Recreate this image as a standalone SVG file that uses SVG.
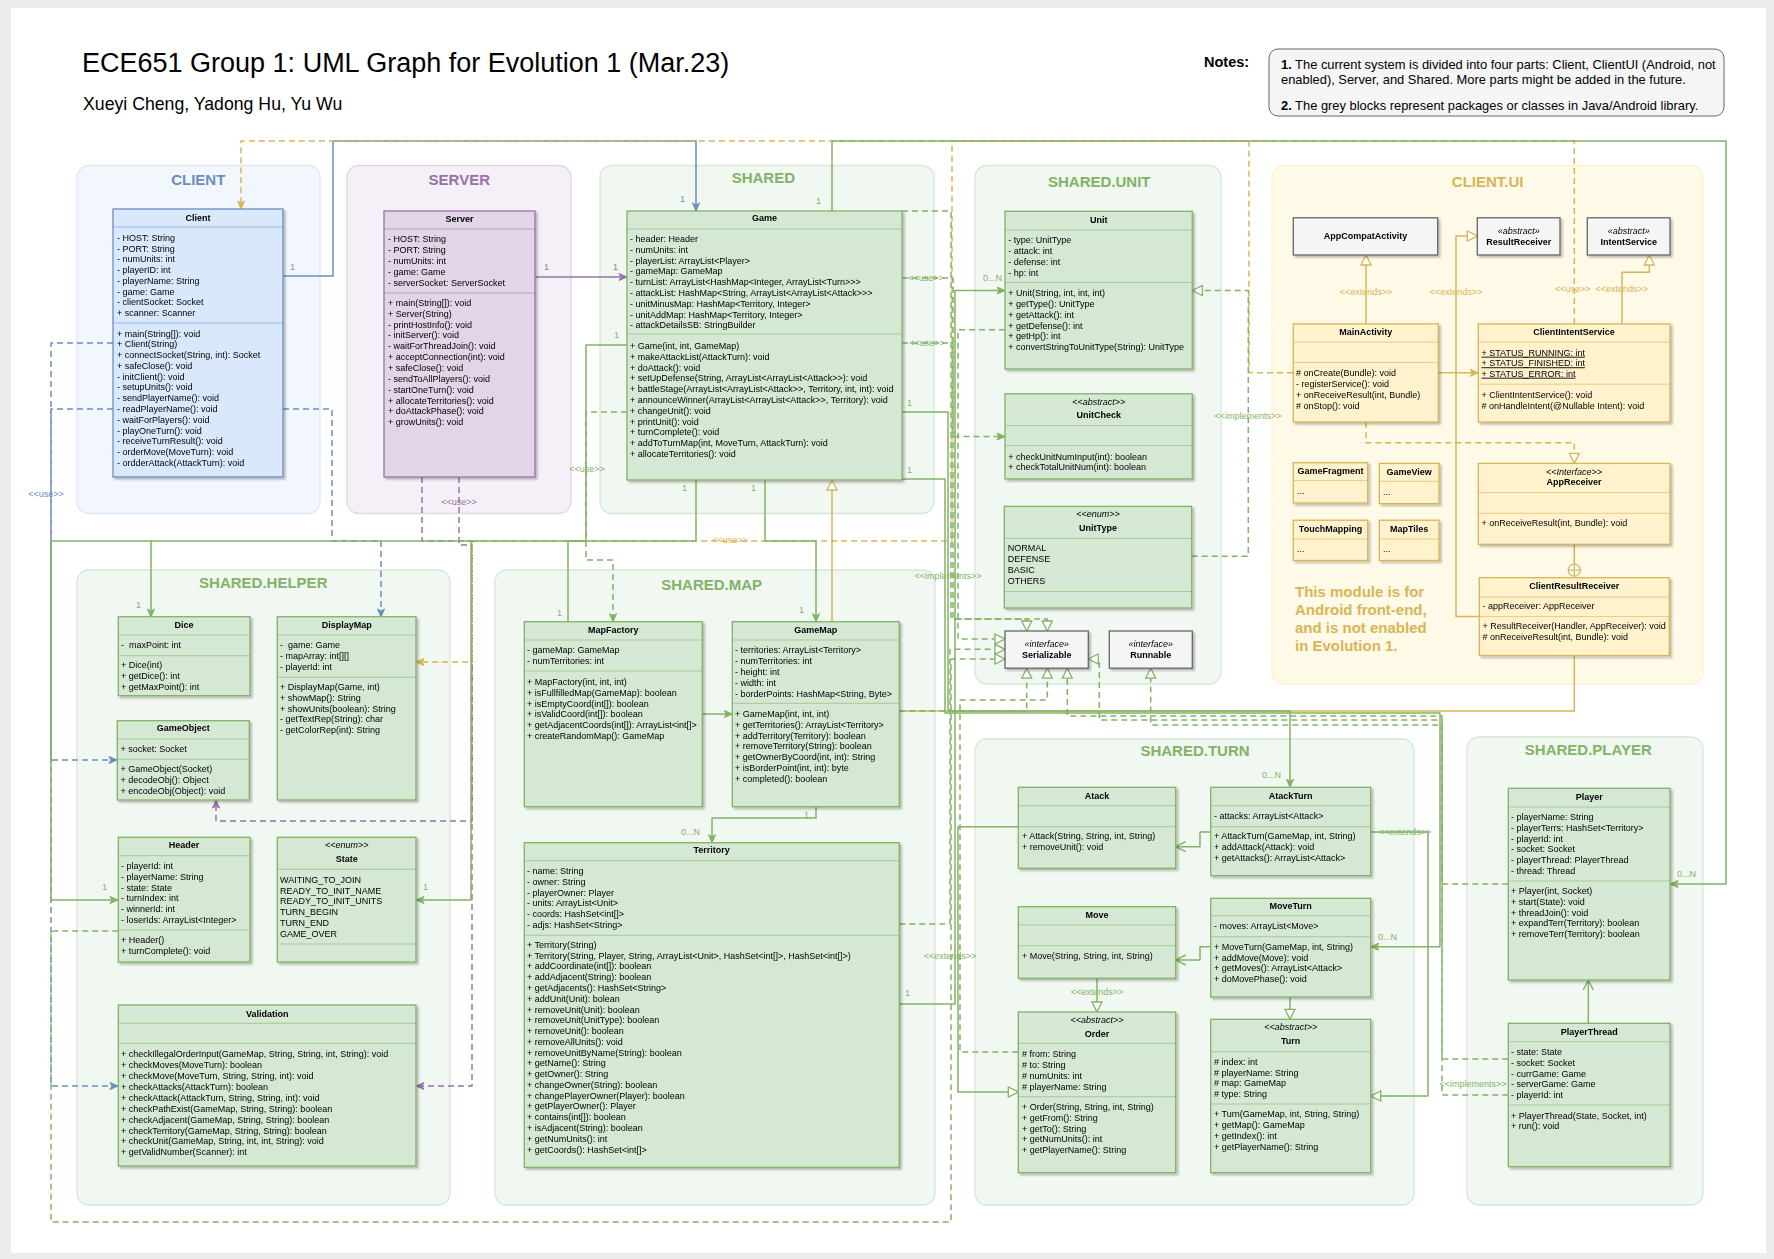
<svg xmlns="http://www.w3.org/2000/svg" width="1774" height="1259" viewBox="0 0 1774 1259">
<defs>
<style>
text{font-family:"Liberation Sans",Arial,Helvetica,sans-serif;font-size:9px;fill:#000}
.nm{font-weight:bold;text-anchor:middle}
.it{font-style:italic;text-anchor:middle}
.pk{font-weight:bold;font-size:15px;text-anchor:middle}
.g{fill:#d5e8d4;stroke:#82b366;stroke-width:1.3}
.b{fill:#dae8fc;stroke:#6c8ebf;stroke-width:1.3}
.p{fill:#e1d5e7;stroke:#9673a6;stroke-width:1.3}
.y{fill:#fff2cc;stroke:#d6b656;stroke-width:1.3}
.k{fill:#f5f5f5;stroke:#666666;stroke-width:1.3}
.dvg{stroke:#82b366;stroke-opacity:.55}
.dvb{stroke:#6c8ebf;stroke-opacity:.55}
.dvp{stroke:#9673a6;stroke-opacity:.55}
.dvy{stroke:#d6b656;stroke-opacity:.6}
.pg{fill:#d5e8d4;fill-opacity:.33;stroke:#d5e8d4;stroke-width:1.3}
.pb{fill:#dae8fc;fill-opacity:.35;stroke:#dae8fc;stroke-width:1.3}
.pp{fill:#e1d5e7;fill-opacity:.35;stroke:#e1d5e7;stroke-width:1.3}
.py{fill:#fff2cc;fill-opacity:.45;stroke:#fff2cc;stroke-width:1.3}
.cg{fill:none;stroke:#82b366;stroke-width:1.5;stroke-linejoin:round}
.cb{fill:none;stroke:#6c8ebf;stroke-width:1.5;stroke-linejoin:round}
.cp{fill:none;stroke:#9673a6;stroke-width:1.5;stroke-linejoin:round}
.cy{fill:none;stroke:#d6b656;stroke-width:1.5;stroke-linejoin:round}
.d{stroke-dasharray:6 4}
.lg{fill:#82b366}
.lb{fill:#6c8ebf}
.lp{fill:#9673a6}
.ly{fill:#d6b656}
.c{text-anchor:middle}
.nt{font-size:12.9px}
</style>
<filter id="sh" x="-5%" y="-5%" width="115%" height="115%"><feDropShadow dx="2" dy="2" stdDeviation="1" flood-color="#000" flood-opacity="0.25"/></filter>
<marker id="aG" viewBox="0 0 10 10" refX="9" refY="5" markerWidth="10" markerHeight="10" markerUnits="userSpaceOnUse" orient="auto"><path d="M1,1.5 L9,5 L1,8.5 L3,5 Z" fill="#82b366" stroke="#82b366"/></marker>
<marker id="aB" viewBox="0 0 10 10" refX="9" refY="5" markerWidth="10" markerHeight="10" markerUnits="userSpaceOnUse" orient="auto"><path d="M1,1.5 L9,5 L1,8.5 L3,5 Z" fill="#6c8ebf" stroke="#6c8ebf"/></marker>
<marker id="aP" viewBox="0 0 10 10" refX="9" refY="5" markerWidth="10" markerHeight="10" markerUnits="userSpaceOnUse" orient="auto"><path d="M1,1.5 L9,5 L1,8.5 L3,5 Z" fill="#9673a6" stroke="#9673a6"/></marker>
<marker id="aY" viewBox="0 0 10 10" refX="9" refY="5" markerWidth="10" markerHeight="10" markerUnits="userSpaceOnUse" orient="auto"><path d="M1,1.5 L9,5 L1,8.5 L3,5 Z" fill="#d6b656" stroke="#d6b656"/></marker>
<marker id="tG" viewBox="0 0 12 12" refX="11" refY="6" markerWidth="12" markerHeight="12" markerUnits="userSpaceOnUse" orient="auto"><path d="M1,1 L11,6 L1,11 Z" fill="#ffffff" stroke="#82b366" stroke-width="1.3"/></marker>
<marker id="tY" viewBox="0 0 12 12" refX="11" refY="6" markerWidth="12" markerHeight="12" markerUnits="userSpaceOnUse" orient="auto"><path d="M1,1 L11,6 L1,11 Z" fill="#ffffff" stroke="#d6b656" stroke-width="1.3"/></marker>
<marker id="oG" viewBox="0 0 12 12" refX="11" refY="6" markerWidth="12" markerHeight="12" markerUnits="userSpaceOnUse" orient="auto"><path d="M1,1 L11,6 L1,11" fill="none" stroke="#82b366" stroke-width="1.4"/></marker>
</defs>

<rect x="0" y="0" width="1774" height="1259" fill="#ececec"/>
<rect x="11" y="8" width="1755" height="1245" fill="#ffffff"/>

<g id="title">
<text x="82" y="72" style="font-size:27px">ECE651 Group 1: UML Graph for Evolution 1 (Mar.23)</text>
<text x="83" y="110" style="font-size:17.7px">Xueyi Cheng, Yadong Hu, Yu Wu</text>
</g>
<g id="notes">
<text x="1204" y="67" style="font-size:14.5px;font-weight:bold">Notes:</text>
<rect x="1269" y="49" width="455" height="67" rx="9" fill="#f5f5f5" stroke="#666666" stroke-width="1"/>
<text class="nt" x="1281" y="69"><tspan font-weight="bold">1.</tspan> The current system is divided into four parts: Client, ClientUI (Android, not</text>
<text class="nt" x="1281" y="84">enabled), Server, and Shared. More parts might be added in the future.</text>
<text class="nt" x="1281" y="109.5"><tspan font-weight="bold">2.</tspan> The grey blocks represent packages or classes in Java/Android library.</text>
</g>

<!-- packages -->
<g id="pkg-client"><rect class="pb" x="77" y="165.5" width="243" height="348" rx="12"/><text class="pk" x="198.3" y="184.7" style="fill:#6c8ebf">CLIENT</text></g>
<g id="pkg-server"><rect class="pp" x="347" y="165.5" width="224" height="348" rx="12"/><text class="pk" x="459.3" y="184.7" style="fill:#9673a6">SERVER</text></g>
<g id="pkg-shared"><rect class="pg" x="600" y="165.5" width="334" height="348" rx="12"/><text class="pk" x="763.3" y="182.5" style="fill:#82b366">SHARED</text></g>
<g id="pkg-unit"><rect class="pg" x="975" y="165.5" width="246" height="518.5" rx="12"/><text class="pk" x="1099.3" y="186.5" style="fill:#82b366">SHARED.UNIT</text></g>
<g id="pkg-clientui"><rect class="py" x="1272" y="165.5" width="431" height="518.5" rx="12"/><text class="pk" x="1487.7" y="186.5" style="fill:#d6b656">CLIENT.UI</text></g>
<g id="pkg-helper"><rect class="pg" x="77" y="570" width="373" height="635" rx="12"/><text class="pk" x="263.3" y="588" style="fill:#82b366">SHARED.HELPER</text></g>
<g id="pkg-map"><rect class="pg" x="495" y="570" width="440" height="635" rx="12"/><text class="pk" x="711.7" y="590" style="fill:#82b366">SHARED.MAP</text></g>
<g id="pkg-turn"><rect class="pg" x="975" y="739" width="439" height="466" rx="12"/><text class="pk" x="1195" y="756" style="fill:#82b366">SHARED.TURN</text></g>
<g id="pkg-player"><rect class="pg" x="1467" y="737" width="236" height="468" rx="12"/><text class="pk" x="1588.3" y="755" style="fill:#82b366">SHARED.PLAYER</text></g>

<!-- connectors -->
<g id="connectors">
<!-- blue -->
<path class="cb" d="M283,276 H333 V141 H696 V211" marker-end="url(#aB)"/>
<path class="cb d" d="M113,343 H51 V760 H117" marker-end="url(#aB)"/>
<path class="cb d" d="M113,409 H51 V1086 H118" marker-end="url(#aB)"/>
<path class="cb d" d="M283,409 H332 V541 H381 V617" marker-end="url(#aB)"/>
<!-- purple -->
<path class="cp" d="M535,277 H627" marker-end="url(#aP)"/>
<path class="cp d" d="M422,477 V541 H472 V821 H216 V800" marker-end="url(#aP)"/>
<path class="cp d" d="M459,477 V545 H472 V1086 H416" marker-end="url(#aP)"/>
<!-- yellow -->
<path class="cy d" d="M1293,372.8 H1249 V141 H241 V209" marker-end="url(#aY)"/>
<path class="cy d" d="M1574.3,323.9 V141 H952 V541 H472 V662 H416" marker-end="url(#aY)"/>
<path class="cy" d="M1574.3,655.5 V711 H832 V480" marker-end="url(#tY)"/>
<path class="cy" d="M1438.3,372.8 H1478.3" marker-end="url(#aY)"/>
<path class="cy" d="M1366,323.9 V255" marker-end="url(#tY)"/>
<path class="cy" d="M1479.3,616.6 H1456 V236 H1477.3" marker-end="url(#tY)"/>
<path class="cy" d="M1622,323.9 V272.2 H1649.3 V255" marker-end="url(#tY)"/>
<path class="cy d" d="M1366,422 V442.7 H1574.3 V463.4" marker-end="url(#tY)"/>
<path class="cy" d="M1574.3,544.3 V564"/>
<circle cx="1574.3" cy="570.1" r="6" fill="#ffffff" stroke="#d6b656" stroke-width="1.3"/>
<path d="M1568.3,570.1 H1580.3 M1574.3,564.1 V576.1" stroke="#d6b656" stroke-width="1.3"/>
<!-- green solid -->
<path class="cg" d="M832,211 V141 H1726 V884 H1670" marker-end="url(#aG)"/>
<path class="cg" d="M627,345 H586 V541 H151 V617" marker-end="url(#aG)"/>
<path class="cg" d="M151,541 H51 V900 H118" marker-end="url(#aG)"/>
<path class="cg" d="M696,480 V541 H568 V622"/>
<path class="cg" d="M765,480 V541 H816 V621.7" marker-end="url(#aG)"/>
<path class="cg" d="M471,541 V900 H416" marker-end="url(#aG)"/>
<path class="cg" d="M702.3,714 H732.3" marker-end="url(#aG)"/>
<path class="cg" d="M816,806.7 V818 H712 V842.7" marker-end="url(#aG)"/>
<path class="cg" d="M899.3,1004 H955 V290.5 H1005" marker-end="url(#aG)"/>
<path class="cg" d="M902,412 H948 V711 H1290 V787.3" marker-end="url(#aG)"/>
<path class="cg" d="M902,479 H945 V713 H1440 V946.7 H1370.7" marker-end="url(#aG)"/>
<path class="cg" d="M1210.7,832 H1200 V846.7 H1175.7" marker-end="url(#oG)"/>
<path class="cg" d="M1210.7,946.7 H1200 V960 H1175.7" marker-end="url(#oG)"/>
<path class="cg" d="M1018.3,826.7 H958 V1092 H1018.3" marker-end="url(#tG)"/>
<path class="cg" d="M1370.7,832 H1428 V1096 H1370.7" marker-end="url(#tG)"/>
<path class="cg" d="M1097,978.3 V1012" marker-end="url(#tG)"/>
<path class="cg" d="M1290,997 V1019.3" marker-end="url(#tG)"/>
<path class="cg" d="M1588.3,1023.3 V980" marker-end="url(#oG)"/>
<!-- green dashed -->
<path class="cg d" d="M627,412 H586 V560 H613 V621.7" marker-end="url(#aG)"/>
<path class="cg d" d="M902,211 H951 V619 H1047.3 V631" marker-end="url(#tG)"/>
<path class="cg d" d="M902,278 H953 V436.5 H1005" marker-end="url(#aG)"/>
<path class="cg d" d="M902,343 H953 V619 H1026.7 V631" marker-end="url(#tG)"/>
<path class="cg d" d="M1005,329.7 H958 V639 H1005" marker-end="url(#tG)"/>
<path class="cg d" d="M1191.7,556.3 H1248.3 V290.5 H1192.3" marker-end="url(#tG)"/>
<path class="cg d" d="M899.3,711 H1026.7 V668.2" marker-end="url(#tG)"/>
<path class="cg d" d="M899.3,924 H950 V649.3 H1005" marker-end="url(#tG)"/>
<path class="cg d" d="M1018.3,1052 H960 V700 H1047.3 V668.2" marker-end="url(#tG)"/>
<path class="cg d" d="M118.3,931 H51 V1222 H951 V659 H1005" marker-end="url(#tG)"/>
<path class="cg d" d="M1508.3,884 H1442 V716 H1067.3 V668.2" marker-end="url(#tG)"/>
<path class="cg d" d="M1508.3,1059 H1442 V720 H1099.3 V659 H1088.3" marker-end="url(#tG)"/>
<path class="cg d" d="M1508.3,1095 H1442 V725 H1150.7 V668.2" marker-end="url(#tG)"/>
<!-- labels -->
<text class="lb" x="290" y="270">1</text>
<text class="lb" x="680" y="202">1</text>
<text class="lb c" x="46" y="497">&lt;&lt;use&gt;&gt;</text>
<text class="lp" x="544" y="270">1</text>
<text class="lp" x="613" y="270">1</text>
<text class="lp c" x="459" y="505">&lt;&lt;use&gt;&gt;</text>
<text class="ly c" x="1366" y="295.4">&lt;&lt;extends&gt;&gt;</text>
<text class="ly c" x="1456" y="295.4">&lt;&lt;extends&gt;&gt;</text>
<text class="ly c" x="1572.7" y="291.6">&lt;&lt;use&gt;&gt;</text>
<text class="ly c" x="1621.7" y="291.6">&lt;&lt;extends&gt;&gt;</text>
<text class="ly c" x="730" y="543">&lt;&lt;use&gt;&gt;</text>
<text class="lg" x="816" y="204">1</text>
<text class="lg" x="1677" y="877">0...N</text>
<text class="lg" x="614" y="338">1</text>
<text class="lg" x="136" y="608">1</text>
<text class="lg" x="102" y="890">1</text>
<text class="lg" x="682" y="491">1</text>
<text class="lg" x="751" y="491">1</text>
<text class="lg" x="557" y="616">1</text>
<text class="lg" x="799" y="613">1</text>
<text class="lg" x="423" y="890">1</text>
<text class="lg" x="804" y="818">1</text>
<text class="lg" x="681" y="835">0...N</text>
<text class="lg" x="905" y="996">1</text>
<text class="lg" x="983" y="280.5">0...N</text>
<text class="lg" x="907" y="406">1</text>
<text class="lg" x="907" y="473">1</text>
<text class="lg" x="1262" y="778">0...N</text>
<text class="lg" x="1378" y="940">0...N</text>
<text class="lg c" x="926" y="281">&lt;&lt;use&gt;&gt;</text>
<text class="lg c" x="927" y="346">&lt;&lt;use&gt;&gt;</text>
<text class="lg c" x="587" y="472">&lt;&lt;use&gt;&gt;</text>
<text class="lg c" x="1248" y="419">&lt;&lt;implements&gt;&gt;</text>
<text class="lg c" x="948" y="579">&lt;&lt;implements&gt;&gt;</text>
<text class="lg c" x="950" y="959">&lt;&lt;extends&gt;&gt;</text>
<text class="lg c" x="1405" y="835">&lt;&lt;extends&gt;&gt;</text>
<text class="lg c" x="1097" y="995">&lt;&lt;extends&gt;&gt;</text>
<text class="lg c" x="1473" y="1087">&lt;&lt;implements&gt;&gt;</text>
</g>

<!-- CLIENT -->
<g id="client" filter="url(#sh)">
<rect class="b" x="113" y="209" width="170" height="268"/>
<text class="nm" x="198" y="220.5">Client</text>
<line class="dvb" x1="113" y1="227" x2="283" y2="227"/>
<line class="dvb" x1="113" y1="323" x2="283" y2="323"/>
<text x="117" y="240.9"><tspan x="117">- HOST: String</tspan><tspan x="117" dy="10.75">- PORT: String</tspan><tspan x="117" dy="10.75">- numUnits: int</tspan><tspan x="117" dy="10.75">- playerID: int</tspan><tspan x="117" dy="10.75">- playerName: String</tspan><tspan x="117" dy="10.75">- game: Game</tspan><tspan x="117" dy="10.75">- clientSocket: Socket</tspan><tspan x="117" dy="10.75">+ scanner: Scanner</tspan></text>
<text x="117" y="336.5"><tspan x="117">+ main(String[]): void</tspan><tspan x="117" dy="10.78">+ Client(String)</tspan><tspan x="117" dy="10.78">+ connectSocket(String, int): Socket</tspan><tspan x="117" dy="10.78">+ safeClose(): void</tspan><tspan x="117" dy="10.78">- initClient(): void</tspan><tspan x="117" dy="10.78">- setupUnits(): void</tspan><tspan x="117" dy="10.78">- sendPlayerName(): void</tspan><tspan x="117" dy="10.78">- readPlayerName(): void</tspan><tspan x="117" dy="10.78">- waitForPlayers(): void</tspan><tspan x="117" dy="10.78">- playOneTurn(): void</tspan><tspan x="117" dy="10.78">- receiveTurnResult(): void</tspan><tspan x="117" dy="10.78">- orderMove(MoveTurn): void</tspan><tspan x="117" dy="10.78">- ordderAttack(AttackTurn): void</tspan></text>
</g>

<!-- SERVER -->
<g id="server" filter="url(#sh)">
<rect class="p" x="384" y="211" width="151" height="266"/>
<text class="nm" x="459.5" y="222.2">Server</text>
<line class="dvp" x1="384" y1="229" x2="535" y2="229"/>
<line class="dvp" x1="384" y1="293" x2="535" y2="293"/>
<text x="388" y="241.9"><tspan x="388">- HOST: String</tspan><tspan x="388" dy="11">- PORT: String</tspan><tspan x="388" dy="11">- numUnits: int</tspan><tspan x="388" dy="11">- game: Game</tspan><tspan x="388" dy="11">- serverSocket: ServerSocket</tspan></text>
<text x="388" y="305.9"><tspan x="388">+ main(String[]): void</tspan><tspan x="388" dy="10.85">+ Server(String)</tspan><tspan x="388" dy="10.85">- printHostInfo(): void</tspan><tspan x="388" dy="10.85">- initServer(): void</tspan><tspan x="388" dy="10.85">- waitForThreadJoin(): void</tspan><tspan x="388" dy="10.85">+ acceptConnection(int): void</tspan><tspan x="388" dy="10.85">+ safeClose(): void</tspan><tspan x="388" dy="10.85">- sendToAllPlayers(): void</tspan><tspan x="388" dy="10.85">- startOneTurn(): void</tspan><tspan x="388" dy="10.85">+ allocateTerritories(): void</tspan><tspan x="388" dy="10.85">+ doAttackPhase(): void</tspan><tspan x="388" dy="10.85">+ growUnits(): void</tspan></text>
</g>

<!-- GAME -->
<g id="game" filter="url(#sh)">
<rect class="g" x="627" y="211" width="275" height="269"/>
<text class="nm" x="764.5" y="221.2">Game</text>
<line class="dvg" x1="627" y1="229" x2="902" y2="229"/>
<line class="dvg" x1="627" y1="334" x2="902" y2="334"/>
<text x="630" y="241.9"><tspan x="630">- header: Header</tspan><tspan x="630" dy="10.8">- numUnits: int</tspan><tspan x="630" dy="10.8">- playerList: ArrayList&lt;Player&gt;</tspan><tspan x="630" dy="10.8">- gameMap: GameMap</tspan><tspan x="630" dy="10.8">- turnList: ArrayList&lt;HashMap&lt;Integer, ArrayList&lt;Turn&gt;&gt;&gt;</tspan><tspan x="630" dy="10.8">- attackList: HashMap&lt;String, ArrayList&lt;ArrayList&lt;Attack&gt;&gt;&gt;</tspan><tspan x="630" dy="10.8">- unitMinusMap: HashMap&lt;Territory, Integer&gt;</tspan><tspan x="630" dy="10.8">- unitAddMap: HashMap&lt;Territory, Integer&gt;</tspan><tspan x="630" dy="10.8">- attackDetailsSB: StringBuilder</tspan></text>
<text x="630" y="348.9"><tspan x="630">+ Game(int, int, GameMap)</tspan><tspan x="630" dy="10.8">+ makeAttackList(AttackTurn): void</tspan><tspan x="630" dy="10.8">+ doAttack(): void</tspan><tspan x="630" dy="10.8">+ setUpDefense(String, ArrayList&lt;ArrayList&lt;Attack&gt;&gt;): void</tspan><tspan x="630" dy="10.8">+ battleStage(ArrayList&lt;ArrayList&lt;Attack&gt;&gt;, Territory, int, int): void</tspan><tspan x="630" dy="10.8">+ announceWinner(ArrayList&lt;ArrayList&lt;Attack&gt;&gt;, Territory): void</tspan><tspan x="630" dy="10.8">+ changeUnit(): void</tspan><tspan x="630" dy="10.8">+ printUnit(): void</tspan><tspan x="630" dy="10.8">+ turnComplete(): void</tspan><tspan x="630" dy="10.8">+ addToTurnMap(int, MoveTurn, AttackTurn): void</tspan><tspan x="630" dy="10.8">+ allocateTerritories(): void</tspan></text>
</g>

<!-- SHARED.UNIT -->
<g id="unit" filter="url(#sh)">
<rect class="g" x="1005" y="211.3" width="187.3" height="157.7"/>
<text class="nm" x="1098.7" y="222.8">Unit</text>
<line class="dvg" x1="1005" y1="230" x2="1192.3" y2="230"/>
<line class="dvg" x1="1005" y1="282.6" x2="1192.3" y2="282.6"/>
<text x="1008.3" y="243.4"><tspan x="1008.3">- type: UnitType</tspan><tspan x="1008.3" dy="10.7">- attack: int</tspan><tspan x="1008.3" dy="10.7">- defense: int</tspan><tspan x="1008.3" dy="10.7">- hp: int</tspan></text>
<text x="1008.3" y="296.1"><tspan x="1008.3">+ Unit(String, int, int, int)</tspan><tspan x="1008.3" dy="10.8">+ getType(): UnitType</tspan><tspan x="1008.3" dy="10.8">+ getAttack(): int</tspan><tspan x="1008.3" dy="10.8">+ getDefense(): int</tspan><tspan x="1008.3" dy="10.8">+ getHp(): int</tspan><tspan x="1008.3" dy="10.8">+ convertStringToUnitType(String): UnitType</tspan></text>
</g>
<g id="unitcheck" filter="url(#sh)">
<rect class="g" x="1005" y="393.8" width="187.3" height="85.1"/>
<text class="it" x="1098.7" y="404.6">&lt;&lt;abstract&gt;&gt;</text>
<text class="nm" x="1098.7" y="418.4">UnitCheck</text>
<line class="dvg" x1="1005" y1="425.5" x2="1192.3" y2="425.5"/>
<line class="dvg" x1="1005" y1="445.5" x2="1192.3" y2="445.5"/>
<text x="1008.3" y="459.7"><tspan x="1008.3">+ checkUnitNumInput(int): boolean</tspan><tspan x="1008.3" dy="10.3">+ checkTotalUnitNum(int): boolean</tspan></text>
</g>
<g id="unittype" filter="url(#sh)">
<rect class="g" x="1004.3" y="506.4" width="187.4" height="101.6"/>
<text class="it" x="1098" y="516.5">&lt;&lt;enum&gt;&gt;</text>
<text class="nm" x="1098" y="530.9">UnitType</text>
<line class="dvg" x1="1004.3" y1="538.4" x2="1191.7" y2="538.4"/>
<text x="1007.7" y="550.9"><tspan x="1007.7">NORMAL</tspan><tspan x="1007.7" dy="11">DEFENSE</tspan><tspan x="1007.7" dy="11">BASIC</tspan><tspan x="1007.7" dy="11">OTHERS</tspan></text>
<line class="dvg" x1="1004.3" y1="591.5" x2="1191.7" y2="591.5"/>
</g>
<g id="serializable" filter="url(#sh)">
<rect class="k" x="1005" y="631" width="83.3" height="37.2"/>
<text class="it" x="1046.7" y="647.2">«interface»</text>
<text class="nm" x="1046.7" y="657.7">Serializable</text>
</g>
<g id="runnable" filter="url(#sh)">
<rect class="k" x="1109.3" y="631" width="83" height="37.2"/>
<text class="it" x="1150.8" y="647.2">«interface»</text>
<text class="nm" x="1150.8" y="657.7">Runnable</text>
</g>

<!-- CLIENT.UI -->
<g id="appcompatactivity" filter="url(#sh)">
<rect class="k" x="1293.3" y="217.8" width="144.4" height="37.2"/>
<text class="nm" x="1365.5" y="238.6">AppCompatActivity</text>
</g>
<g id="resultreceiver" filter="url(#sh)">
<rect class="k" x="1477.3" y="217.8" width="82.7" height="37.2"/>
<text class="it" x="1518.7" y="234.2">«abstract»</text>
<text class="nm" x="1518.7" y="244.8">ResultReceiver</text>
</g>
<g id="intentservice" filter="url(#sh)">
<rect class="k" x="1587.3" y="217.8" width="82.7" height="37.2"/>
<text class="it" x="1628.7" y="234.2">«abstract»</text>
<text class="nm" x="1628.7" y="244.8">IntentService</text>
</g>
<g id="mainactivity" filter="url(#sh)">
<rect class="y" x="1293.3" y="323.9" width="145" height="98.1"/>
<text class="nm" x="1365.8" y="334.7">MainActivity</text>
<line class="dvy" x1="1293.3" y1="342.1" x2="1438.3" y2="342.1"/>
<line class="dvy" x1="1293.3" y1="362.5" x2="1438.3" y2="362.5"/>
<text x="1296" y="376"><tspan x="1296"># onCreate(Bundle): void</tspan><tspan x="1296" dy="10.9">- registerService(): void</tspan><tspan x="1296" dy="10.9">+ onReceiveResult(int, Bundle)</tspan><tspan x="1296" dy="10.9"># onStop(): void</tspan></text>
</g>
<g id="clientintentservice" filter="url(#sh)">
<rect class="y" x="1478.3" y="323.9" width="191.7" height="98.1"/>
<text class="nm" x="1574" y="334.7">ClientIntentService</text>
<line class="dvy" x1="1478.3" y1="342.1" x2="1670" y2="342.1"/>
<text x="1481.5" y="355.7" text-decoration="underline"><tspan x="1481.5">+ STATUS_RUNNING: int</tspan><tspan x="1481.5" dy="10.6">+ STATUS_FINISHED: int</tspan><tspan x="1481.5" dy="10.4">+ STATUS_ERROR: int</tspan></text>
<line class="dvy" x1="1478.3" y1="384.2" x2="1670" y2="384.2"/>
<text x="1481.5" y="397.7"><tspan x="1481.5">+ ClientIntentService(): void</tspan><tspan x="1481.5" dy="11"># onHandleIntent(@Nullable Intent): void</tspan></text>
</g>
<g id="appreceiver" filter="url(#sh)">
<rect class="y" x="1478.3" y="463.4" width="191.7" height="80.9"/>
<text class="it" x="1574" y="474.5">&lt;&lt;Interface&gt;&gt;</text>
<text class="nm" x="1574" y="484.8">AppReceiver</text>
<line class="dvy" x1="1478.3" y1="492.6" x2="1670" y2="492.6"/>
<line class="dvy" x1="1478.3" y1="513.3" x2="1670" y2="513.3"/>
<text x="1481.5" y="525.8">+ onReceiveResult(int, Bundle): void</text>
</g>
<g id="clientresultreceiver" filter="url(#sh)">
<rect class="y" x="1479.3" y="577.7" width="190" height="77.8"/>
<text class="nm" x="1574.3" y="588.8">ClientResultReceiver</text>
<line class="dvy" x1="1479.3" y1="597" x2="1669.3" y2="597"/>
<text x="1482.5" y="608.8">- appReceiver: AppReceiver</text>
<line class="dvy" x1="1479.3" y1="616.6" x2="1669.3" y2="616.6"/>
<text x="1482.5" y="628.7"><tspan x="1482.5">+ ResultReceiver(Handler, AppReceiver): void</tspan><tspan x="1482.5" dy="11.1"># onReceiveResult(int, Bundle): void</tspan></text>
</g>
<g id="gamefragment" filter="url(#sh)">
<rect class="y" x="1293.3" y="462.7" width="74.4" height="40.3"/>
<text class="nm" x="1330.5" y="473.8">GameFragment</text>
<line class="dvy" x1="1293.3" y1="480.6" x2="1367.7" y2="480.6"/>
<text x="1297" y="494">...</text>
</g>
<g id="gameview" filter="url(#sh)">
<rect class="y" x="1379.3" y="463.4" width="59.7" height="40.2"/>
<text class="nm" x="1409.2" y="474.8">GameView</text>
<line class="dvy" x1="1379.3" y1="481.3" x2="1439" y2="481.3"/>
<text x="1383" y="494.6">...</text>
</g>
<g id="touchmapping" filter="url(#sh)">
<rect class="y" x="1293.3" y="520.2" width="74.4" height="40.3"/>
<text class="nm" x="1330.5" y="532">TouchMapping</text>
<line class="dvy" x1="1293.3" y1="539" x2="1367.7" y2="539"/>
<text x="1297" y="552">...</text>
</g>
<g id="maptiles" filter="url(#sh)">
<rect class="y" x="1379.3" y="520.2" width="59.7" height="40.3"/>
<text class="nm" x="1409.2" y="532">MapTiles</text>
<line class="dvy" x1="1379.3" y1="539" x2="1439" y2="539"/>
<text x="1383" y="552">...</text>
</g>
<g id="clientui-note">
<text x="1295" y="597" style="font-size:15px;font-weight:bold;fill:#d6b656">This module is for</text>
<text x="1295" y="615" style="font-size:15px;font-weight:bold;fill:#d6b656">Android front-end,</text>
<text x="1295" y="633.3" style="font-size:15px;font-weight:bold;fill:#d6b656">and is not enabled</text>
<text x="1295" y="651.2" style="font-size:15px;font-weight:bold;fill:#d6b656">in Evolution 1.</text>
</g>

<!-- SHARED.HELPER -->
<g id="dice" filter="url(#sh)">
<rect class="g" x="118.3" y="616.7" width="131.7" height="79"/>
<text class="nm" x="184" y="627.5">Dice</text>
<line class="dvg" x1="118.3" y1="635" x2="250" y2="635"/>
<text x="121" y="647.9" xml:space="preserve">-  maxPoint: int</text>
<line class="dvg" x1="118.3" y1="655.7" x2="250" y2="655.7"/>
<text x="121" y="667.9"><tspan x="121">+ Dice(int)</tspan><tspan x="121" dy="11">+ getDice(): int</tspan><tspan x="121" dy="11">+ getMaxPoint(): int</tspan></text>
</g>
<g id="displaymap" filter="url(#sh)">
<rect class="g" x="277.3" y="616.7" width="138.7" height="183.3"/>
<text class="nm" x="346.7" y="627.5">DisplayMap</text>
<line class="dvg" x1="277.3" y1="635" x2="416" y2="635"/>
<text x="280" y="647.9" xml:space="preserve"><tspan x="280">-  game: Game</tspan><tspan x="280" dy="11">- mapArray: int[][]</tspan><tspan x="280" dy="11">- playerId: int</tspan></text>
<line class="dvg" x1="277.3" y1="677.3" x2="416" y2="677.3"/>
<text x="280" y="689.9"><tspan x="280">+ DisplayMap(Game, int)</tspan><tspan x="280" dy="10.8">+ showMap(): String</tspan><tspan x="280" dy="10.8">+ showUnits(boolean): String</tspan><tspan x="280" dy="10.8">- getTextRep(String): char</tspan><tspan x="280" dy="10.8">- getColorRep(int): String</tspan></text>
</g>
<g id="gameobject" filter="url(#sh)">
<rect class="g" x="117.3" y="720.7" width="132" height="79.3"/>
<text class="nm" x="183.3" y="730.9">GameObject</text>
<line class="dvg" x1="117.3" y1="739" x2="249.3" y2="739"/>
<text x="120.5" y="751.9">+ socket: Socket</text>
<line class="dvg" x1="117.3" y1="759.3" x2="249.3" y2="759.3"/>
<text x="120.5" y="771.9"><tspan x="120.5">+ GameObject(Socket)</tspan><tspan x="120.5" dy="11">+ decodeObj(): Object</tspan><tspan x="120.5" dy="11">+ encodeObj(Object): void</tspan></text>
</g>
<g id="header" filter="url(#sh)">
<rect class="g" x="118.3" y="837.3" width="131.7" height="124.7"/>
<text class="nm" x="184" y="847.7">Header</text>
<line class="dvg" x1="118.3" y1="855.7" x2="250" y2="855.7"/>
<text x="121" y="868.9"><tspan x="121">- playerId: int</tspan><tspan x="121" dy="10.8">- playerName: String</tspan><tspan x="121" dy="10.8">- state: State</tspan><tspan x="121" dy="10.8">- turnIndex: int</tspan><tspan x="121" dy="10.8">- winnerId: int</tspan><tspan x="121" dy="10.8">- loserIds: ArrayList&lt;Integer&gt;</tspan></text>
<line class="dvg" x1="118.3" y1="930" x2="250" y2="930"/>
<text x="121" y="942.9"><tspan x="121">+ Header()</tspan><tspan x="121" dy="11">+ turnComplete(): void</tspan></text>
</g>
<g id="state" filter="url(#sh)">
<rect class="g" x="277.3" y="837.3" width="138.7" height="124.7"/>
<text class="it" x="346.7" y="847.9">&lt;&lt;enum&gt;&gt;</text>
<text class="nm" x="346.7" y="861.9">State</text>
<line class="dvg" x1="277.3" y1="869.3" x2="416" y2="869.3"/>
<text x="280" y="882.9"><tspan x="280">WAITING_TO_JOIN</tspan><tspan x="280" dy="10.75">READY_TO_INIT_NAME</tspan><tspan x="280" dy="10.75">READY_TO_INIT_UNITS</tspan><tspan x="280" dy="10.75">TURN_BEGIN</tspan><tspan x="280" dy="10.75">TURN_END</tspan><tspan x="280" dy="10.75">GAME_OVER</tspan></text>
<line class="dvg" x1="277.3" y1="944" x2="416" y2="944"/>
</g>
<g id="validation" filter="url(#sh)">
<rect class="g" x="118.3" y="1005" width="297.7" height="161"/>
<text class="nm" x="267.2" y="1016.5">Validation</text>
<line class="dvg" x1="118.3" y1="1023.3" x2="416" y2="1023.3"/>
<line class="dvg" x1="118.3" y1="1043.3" x2="416" y2="1043.3"/>
<text x="121" y="1057.2"><tspan x="121">+ checkIllegalOrderInput(GameMap, String, String, int, String): void</tspan><tspan x="121" dy="10.9">+ checkMoves(MoveTurn): boolean</tspan><tspan x="121" dy="10.9">+ checkMove(MoveTurn, String, String, int): void</tspan><tspan x="121" dy="10.9">+ checkAttacks(AttackTurn): boolean</tspan><tspan x="121" dy="10.9">+ checkAttack(AttackTurn, String, String, int): void</tspan><tspan x="121" dy="10.9">+ checkPathExist(GameMap, String, String): boolean</tspan><tspan x="121" dy="10.9">+ checkAdjacent(GameMap, String, String): boolean</tspan><tspan x="121" dy="10.9">+ checkTerritory(GameMap, String, String): boolean</tspan><tspan x="121" dy="10.9">+ checkUnit(GameMap, String, int, int, String): void</tspan><tspan x="121" dy="10.9">+ getValidNumber(Scanner): int</tspan></text>
</g>

<!-- SHARED.MAP -->
<g id="mapfactory" filter="url(#sh)">
<rect class="g" x="524.3" y="621.7" width="178" height="185"/>
<text class="nm" x="613.3" y="632.5">MapFactory</text>
<line class="dvg" x1="524.3" y1="640" x2="702.3" y2="640"/>
<text x="527" y="652.9"><tspan x="527">- gameMap: GameMap</tspan><tspan x="527" dy="11">- numTerritories: int</tspan></text>
<line class="dvg" x1="524.3" y1="671" x2="702.3" y2="671"/>
<text x="527" y="684.9"><tspan x="527">+ MapFactory(int, int, int)</tspan><tspan x="527" dy="10.8">+ isFullfilledMap(GameMap): boolean</tspan><tspan x="527" dy="10.8">+ isEmptyCoord(int[]): boolean</tspan><tspan x="527" dy="10.8">+ isValidCoord(int[]): boolean</tspan><tspan x="527" dy="10.8">+ getAdjacentCoords(int[]): ArrayList&lt;int[]&gt;</tspan><tspan x="527" dy="10.8">+ createRandomMap(): GameMap</tspan></text>
</g>
<g id="gamemap" filter="url(#sh)">
<rect class="g" x="732.3" y="621.7" width="167" height="185"/>
<text class="nm" x="815.7" y="632.5">GameMap</text>
<line class="dvg" x1="732.3" y1="640" x2="899.3" y2="640"/>
<text x="735" y="652.9"><tspan x="735">- territories: ArrayList&lt;Territory&gt;</tspan><tspan x="735" dy="11">- numTerritories: int</tspan><tspan x="735" dy="11">- height: int</tspan><tspan x="735" dy="11">- width: int</tspan><tspan x="735" dy="11">- borderPoints: HashMap&lt;String, Byte&gt;</tspan></text>
<line class="dvg" x1="732.3" y1="703.3" x2="899.3" y2="703.3"/>
<text x="735" y="716.9"><tspan x="735">+ GameMap(int, int, int)</tspan><tspan x="735" dy="10.83">+ getTerritories(): ArrayList&lt;Territory&gt;</tspan><tspan x="735" dy="10.83">+ addTerritory(Territory): boolean</tspan><tspan x="735" dy="10.83">+ removeTerritory(String): boolean</tspan><tspan x="735" dy="10.83">+ getOwnerByCoord(int, int): String</tspan><tspan x="735" dy="10.83">+ isBorderPoint(int, int): byte</tspan><tspan x="735" dy="10.83">+ completed(): boolean</tspan></text>
</g>
<g id="territory" filter="url(#sh)">
<rect class="g" x="524.3" y="842.7" width="375" height="324.6"/>
<text class="nm" x="711.7" y="853.2">Territory</text>
<line class="dvg" x1="524.3" y1="860.7" x2="899.3" y2="860.7"/>
<text x="527" y="873.9"><tspan x="527">- name: String</tspan><tspan x="527" dy="10.8">- owner: String</tspan><tspan x="527" dy="10.8">- playerOwner: Player</tspan><tspan x="527" dy="10.8">- units: ArrayList&lt;Unit&gt;</tspan><tspan x="527" dy="10.8">- coords: HashSet&lt;int[]&gt;</tspan><tspan x="527" dy="10.8">- adjs: HashSet&lt;String&gt;</tspan></text>
<line class="dvg" x1="524.3" y1="935.3" x2="899.3" y2="935.3"/>
<text x="527" y="947.9"><tspan x="527">+ Territory(String)</tspan><tspan x="527" dy="10.77">+ Territory(String, Player, String, ArrayList&lt;Unit&gt;, HashSet&lt;int[]&gt;, HashSet&lt;int[]&gt;)</tspan><tspan x="527" dy="10.77">+ addCoordinate(int[]): boolean</tspan><tspan x="527" dy="10.77">+ addAdjacent(String): boolean</tspan><tspan x="527" dy="10.77">+ getAdjacents(): HashSet&lt;String&gt;</tspan><tspan x="527" dy="10.77">+ addUnit(Unit): bolean</tspan><tspan x="527" dy="10.77">+ removeUnit(Unit): boolean</tspan><tspan x="527" dy="10.77">+ removeUnit(UnitType): boolean</tspan><tspan x="527" dy="10.77">+ removeUnit(): boolean</tspan><tspan x="527" dy="10.77">+ removeAllUnits(): void</tspan><tspan x="527" dy="10.77">+ removeUnitByName(String): boolean</tspan><tspan x="527" dy="10.77">+ getName(): String</tspan><tspan x="527" dy="10.77">+ getOwner(): String</tspan><tspan x="527" dy="10.77">+ changeOwner(String): boolean</tspan><tspan x="527" dy="10.77">+ changePlayerOwner(Player): boolean</tspan><tspan x="527" dy="10.77">+ getPlayerOwner(): Player</tspan><tspan x="527" dy="10.77">+ contains(int[]): boolean</tspan><tspan x="527" dy="10.77">+ isAdjacent(String): boolean</tspan><tspan x="527" dy="10.77">+ getNumUnits(): int</tspan><tspan x="527" dy="10.77">+ getCoords(): HashSet&lt;int[]&gt;</tspan></text>
</g>

<!-- SHARED.TURN -->
<g id="atack" filter="url(#sh)">
<rect class="g" x="1018.3" y="787.3" width="157.4" height="81"/>
<text class="nm" x="1097" y="798.9">Atack</text>
<line class="dvg" x1="1018.3" y1="805.7" x2="1175.7" y2="805.7"/>
<line class="dvg" x1="1018.3" y1="826.7" x2="1175.7" y2="826.7"/>
<text x="1022" y="838.9"><tspan x="1022">+ Attack(String, String, int, String)</tspan><tspan x="1022" dy="11">+ removeUnit(): void</tspan></text>
</g>
<g id="atackturn" filter="url(#sh)">
<rect class="g" x="1210.7" y="787.3" width="160" height="88.4"/>
<text class="nm" x="1290.7" y="798.9">AtackTurn</text>
<line class="dvg" x1="1210.7" y1="805.7" x2="1370.7" y2="805.7"/>
<text x="1214" y="818.9">- attacks: ArrayList&lt;Attack&gt;</text>
<line class="dvg" x1="1210.7" y1="826.7" x2="1370.7" y2="826.7"/>
<text x="1214" y="838.9"><tspan x="1214">+ AttackTurn(GameMap, int, String)</tspan><tspan x="1214" dy="11">+ addAttack(Attack): void</tspan><tspan x="1214" dy="11">+ getAttacks(): ArrayList&lt;Attack&gt;</tspan></text>
</g>
<g id="move" filter="url(#sh)">
<rect class="g" x="1018.3" y="906.7" width="157.4" height="71.6"/>
<text class="nm" x="1097" y="917.9">Move</text>
<line class="dvg" x1="1018.3" y1="925" x2="1175.7" y2="925"/>
<line class="dvg" x1="1018.3" y1="945.7" x2="1175.7" y2="945.7"/>
<text x="1022" y="958.9">+ Move(String, String, int, String)</text>
</g>
<g id="moveturn" filter="url(#sh)">
<rect class="g" x="1210.7" y="898.3" width="160" height="98.7"/>
<text class="nm" x="1290.7" y="908.9">MoveTurn</text>
<line class="dvg" x1="1210.7" y1="915.7" x2="1370.7" y2="915.7"/>
<text x="1214" y="928.9">- moves: ArrayList&lt;Move&gt;</text>
<line class="dvg" x1="1210.7" y1="936.7" x2="1370.7" y2="936.7"/>
<text x="1214" y="949.9"><tspan x="1214">+ MoveTurn(GameMap, int, String)</tspan><tspan x="1214" dy="10.7">+ addMove(Move): void</tspan><tspan x="1214" dy="10.7">+ getMoves(): ArrayList&lt;Attack&gt;</tspan><tspan x="1214" dy="10.7">+ doMovePhase(): void</tspan></text>
</g>
<g id="order" filter="url(#sh)">
<rect class="g" x="1018.3" y="1012" width="157.4" height="160.7"/>
<text class="it" x="1097" y="1022.9">&lt;&lt;abstract&gt;&gt;</text>
<text class="nm" x="1097" y="1036.9">Order</text>
<line class="dvg" x1="1018.3" y1="1043.3" x2="1175.7" y2="1043.3"/>
<text x="1022" y="1056.9"><tspan x="1022"># from: String</tspan><tspan x="1022" dy="11"># to: String</tspan><tspan x="1022" dy="11"># numUnits: int</tspan><tspan x="1022" dy="11"># playerName: String</tspan></text>
<line class="dvg" x1="1018.3" y1="1096.7" x2="1175.7" y2="1096.7"/>
<text x="1022" y="1109.9"><tspan x="1022">+ Order(String, String, int, String)</tspan><tspan x="1022" dy="10.8">+ getFrom(): String</tspan><tspan x="1022" dy="10.8">+ getTo(): String</tspan><tspan x="1022" dy="10.8">+ getNumUnits(): int</tspan><tspan x="1022" dy="10.8">+ getPlayerName(): String</tspan></text>
</g>
<g id="turn" filter="url(#sh)">
<rect class="g" x="1210.7" y="1019.3" width="160" height="153.4"/>
<text class="it" x="1290.7" y="1029.9">&lt;&lt;abstract&gt;&gt;</text>
<text class="nm" x="1290.7" y="1043.9">Turn</text>
<line class="dvg" x1="1210.7" y1="1051.7" x2="1370.7" y2="1051.7"/>
<text x="1214" y="1064.9"><tspan x="1214"># index: int</tspan><tspan x="1214" dy="10.7"># playerName: String</tspan><tspan x="1214" dy="10.7"># map: GameMap</tspan><tspan x="1214" dy="10.7"># type: String</tspan></text>
<line class="dvg" x1="1210.7" y1="1104" x2="1370.7" y2="1104"/>
<text x="1214" y="1116.9"><tspan x="1214">+ Turn(GameMap, int, String, String)</tspan><tspan x="1214" dy="11">+ getMap(): GameMap</tspan><tspan x="1214" dy="11">+ getIndex(): int</tspan><tspan x="1214" dy="11">+ getPlayerName(): String</tspan></text>
</g>

<!-- SHARED.PLAYER -->
<g id="player" filter="url(#sh)">
<rect class="g" x="1508.3" y="788.3" width="161.7" height="191.7"/>
<text class="nm" x="1589.2" y="799.9">Player</text>
<line class="dvg" x1="1508.3" y1="807" x2="1670" y2="807"/>
<text x="1511" y="819.9"><tspan x="1511">- playerName: String</tspan><tspan x="1511" dy="10.8">- playerTerrs: HashSet&lt;Territory&gt;</tspan><tspan x="1511" dy="10.8">- playerId: int</tspan><tspan x="1511" dy="10.8">- socket: Socket</tspan><tspan x="1511" dy="10.8">- playerThread: PlayerThread</tspan><tspan x="1511" dy="10.8">- thread: Thread</tspan></text>
<line class="dvg" x1="1508.3" y1="881" x2="1670" y2="881"/>
<text x="1511" y="894.2"><tspan x="1511">+ Player(int, Socket)</tspan><tspan x="1511" dy="10.7">+ start(State): void</tspan><tspan x="1511" dy="10.7">+ threadJoin(): void</tspan><tspan x="1511" dy="10.7">+ expandTerr(Territory): boolean</tspan><tspan x="1511" dy="10.7">+ removeTerr(Territory): boolean</tspan></text>
</g>
<g id="playerthread" filter="url(#sh)">
<rect class="g" x="1508.3" y="1023.3" width="161.7" height="143.4"/>
<text class="nm" x="1589.2" y="1035.2">PlayerThread</text>
<line class="dvg" x1="1508.3" y1="1041.7" x2="1670" y2="1041.7"/>
<text x="1511" y="1054.9"><tspan x="1511">- state: State</tspan><tspan x="1511" dy="10.8">- socket: Socket</tspan><tspan x="1511" dy="10.8">- currGame: Game</tspan><tspan x="1511" dy="10.8">- serverGame: Game</tspan><tspan x="1511" dy="10.8">- playerId: int</tspan></text>
<line class="dvg" x1="1508.3" y1="1105" x2="1670" y2="1105"/>
<text x="1511" y="1118.9"><tspan x="1511">+ PlayerThread(State, Socket, int)</tspan><tspan x="1511" dy="10">+ run(): void</tspan></text>
</g>
</svg>
